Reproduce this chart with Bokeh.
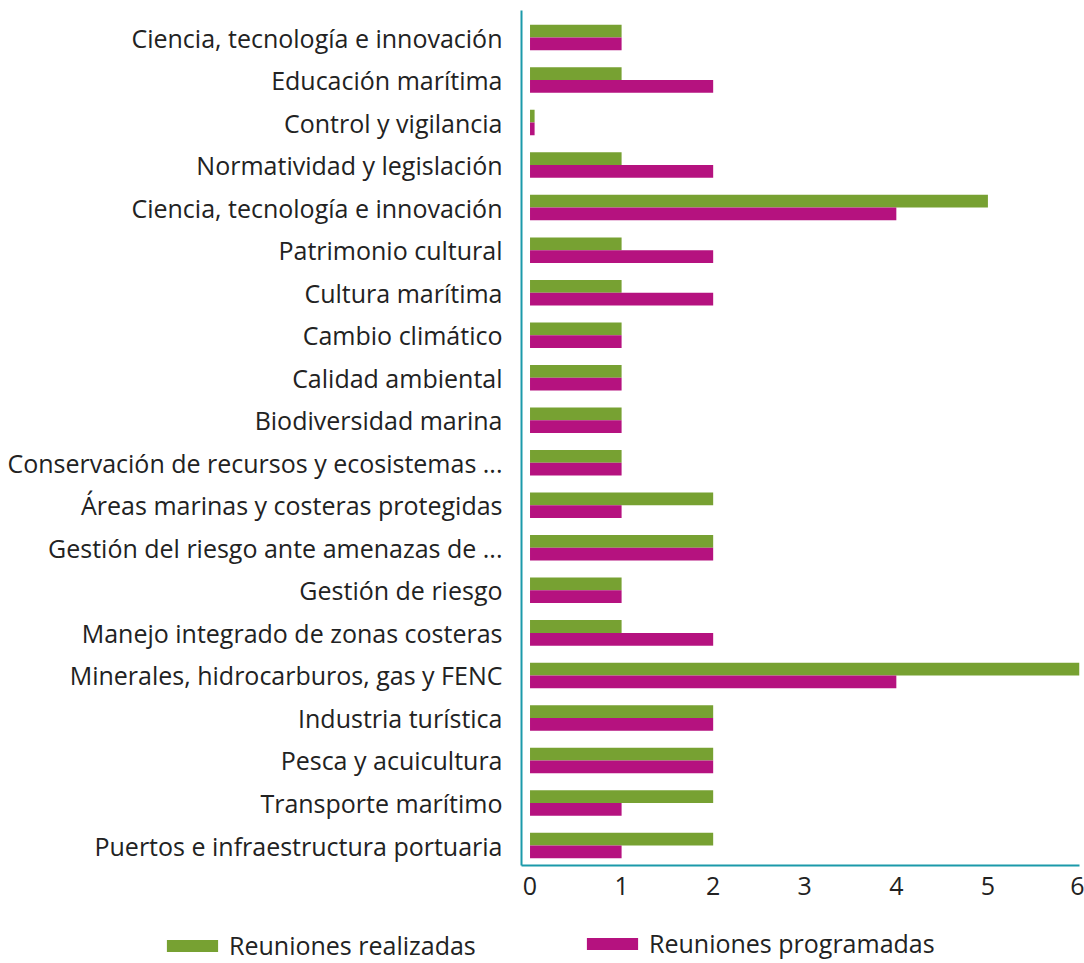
from bokeh.plotting import figure
from bokeh.models import Range1d, FixedTicker, Legend, LegendItem, ColumnDataSource
from bokeh.transform import dodge
from bokeh.embed import file_html
from bokeh.resources import INLINE

categories = [
    "Ciencia, tecnología e innovación",
    "Educación marítima",
    "Control y vigilancia",
    "Normatividad y legislación",
    "Ciencia, tecnología e innovación",
    "Patrimonio cultural",
    "Cultura marítima",
    "Cambio climático",
    "Calidad ambiental",
    "Biodiversidad marina",
    "Conservación de recursos y ecosistemas ...",
    "Áreas marinas y costeras protegidas",
    "Gestión del riesgo ante amenazas de ...",
    "Gestión de riesgo",
    "Manejo integrado de zonas costeras",
    "Minerales, hidrocarburos, gas y FENC",
    "Industria turística",
    "Pesca y acuicultura",
    "Transporte marítimo",
    "Puertos e infraestructura portuaria",
]
realizadas = [1, 1, 0.05, 1, 5, 1, 1, 1, 1, 1, 1, 2, 2, 1, 1, 6, 2, 2, 2, 2]
programadas = [1, 2, 0.05, 2, 4, 2, 2, 1, 1, 1, 1, 1, 2, 1, 2, 4, 2, 2, 1, 1]
x_ticks = [0, 1, 2, 3, 4, 5, 6]
series_names = ["Reuniones realizadas", "Reuniones programadas"]

GREEN = "#77A132"
MAGENTA = "#B5127F"
TEAL = "#1B9AAA"
FONT = "Open Sans"
TXT = "#222222"

n = len(categories)
ypos = [n - 1 - i for i in range(n)]
src = ColumnDataSource(dict(y=ypos, r=realizadas, p=programadas))

p = figure(width=1084, height=915, output_backend="svg", toolbar_location=None,
           x_range=Range1d(-0.093, 6.0), y_range=Range1d(-0.47, n - 1 + 0.635),
           min_border_left=521, min_border_right=5, min_border_top=10, min_border_bottom=50)
p.outline_line_color = None
p.grid.visible = False

bh = 0.30
p.hbar(y=dodge("y", bh / 2, range=p.y_range), left=0, right="r", height=bh,
       source=src, fill_color=GREEN, line_color=None)
p.hbar(y=dodge("y", -bh / 2, range=p.y_range), left=0, right="p", height=bh,
       source=src, fill_color=MAGENTA, line_color=None)

ya = p.yaxis[0]
ya.ticker = FixedTicker(ticks=ypos)
ya.major_label_overrides = {y: c for y, c in zip(ypos, categories)}
ya.axis_line_color = TEAL
ya.axis_line_width = 2
ya.major_tick_line_color = None
ya.minor_tick_line_color = None
ya.major_tick_out = 0
ya.major_label_standoff = 19
ya.major_label_text_font = FONT
ya.major_label_text_font_size = "25px"
ya.major_label_text_color = TXT

xa = p.xaxis[0]
xa.ticker = FixedTicker(ticks=x_ticks)
xa.axis_line_color = TEAL
xa.axis_line_width = 2
xa.major_tick_line_color = None
xa.minor_tick_line_color = None
xa.major_tick_out = 0
xa.major_label_standoff = 11
xa.major_label_text_font = FONT
xa.major_label_text_font_size = "25px"
xa.major_label_text_color = TXT

# legend strip (its own small figure, glyphs kept out of view)
pl = figure(width=1084, height=48, output_backend="svg", toolbar_location=None,
            x_range=Range1d(100, 101), y_range=Range1d(100, 101),
            x_axis_location=None, y_axis_location=None,
            min_border_left=0, min_border_right=0, min_border_top=0, min_border_bottom=0)
pl.outline_line_color = None
pl.grid.visible = False
lg_g = pl.hbar(y="y", left=0, right="r", height=bh, source=src, fill_color=GREEN, line_color=None)
lg_m = pl.hbar(y="y", left=0, right="p", height=bh, source=src, fill_color=MAGENTA, line_color=None)

def mk_legend(label, r, loc):
    lg = Legend(items=[LegendItem(label=label, renderers=[r])], location=loc,
                glyph_width=64, glyph_height=15, label_standoff=5,
                label_text_font=FONT, label_text_font_size="25px",
                label_text_color=TXT, padding=0, margin=0,
                border_line_color=None, background_fill_alpha=0)
    pl.add_layout(lg, "center")

mk_legend(series_names[0], lg_g, (160, 1))
mk_legend(series_names[1], lg_m, (580, 3))

open("out.html", "w").write(file_html([p, pl], INLINE))
